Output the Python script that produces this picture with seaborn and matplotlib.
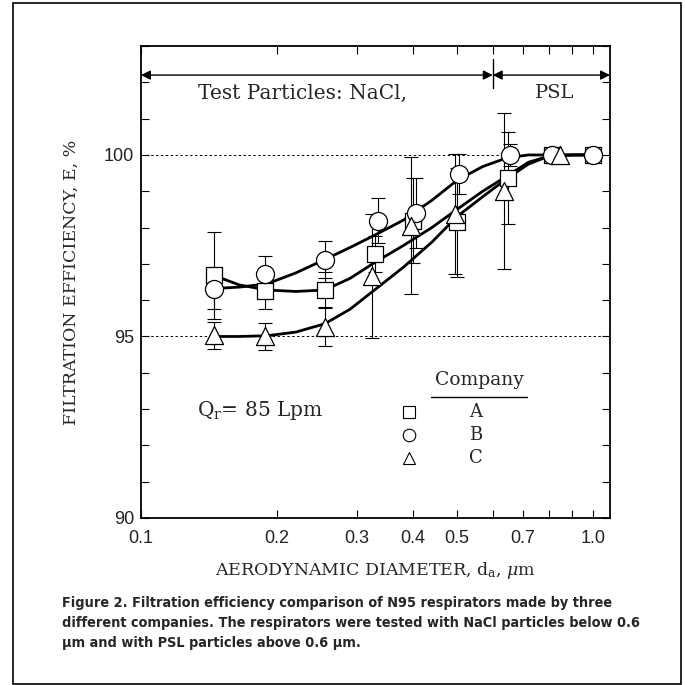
import matplotlib
matplotlib.use("Agg")
import matplotlib.pyplot as plt
import matplotlib.ticker as mticker
from matplotlib.patches import Rectangle
import numpy as np
import pandas as pd
import seaborn as sns

# ---------------------------------------------------------------------------
# Data
# ---------------------------------------------------------------------------
companies = ["A", "B", "C"]

a_diam = [0.145, 0.188, 0.255, 0.33, 0.40, 0.50, 0.648, 0.81, 1.0]
a_eff = [96.68, 96.26, 96.28, 97.28, 98.19, 98.15, 99.37, 100.0, 100.0]
a_err = [1.2, 0.5, 0.5, 0.5, 1.18, 1.5, 1.27, 0.0, 0.0]

b_diam = [0.145, 0.188, 0.255, 0.335, 0.405, 0.505, 0.655, 0.81, 1.0]
b_eff = [96.32, 96.73, 97.12, 98.19, 98.41, 99.48, 100.0, 100.0, 100.0]
b_err = [0.55, 0.5, 0.5, 0.62, 0.96, 0.55, 0.3, 0.0, 0.0]

c_diam = [0.145, 0.188, 0.255, 0.325, 0.395, 0.495, 0.635, 0.845]
c_eff = [95.03, 95.0, 95.27, 96.67, 98.05, 98.38, 99.01, 100.0]
c_err = [0.37, 0.37, 0.53, 1.7, 1.88, 1.65, 2.14, 0.0]

# fitted curves, read at fixed diameters
fit_diam = [0.145, 0.165, 0.19, 0.22, 0.255, 0.29, 0.33, 0.38, 0.44,
            0.5, 0.57, 0.645, 0.72, 0.8, 0.9, 1.0]
a_fit = [96.68, 96.42, 96.28, 96.24, 96.28, 96.6, 97.05, 97.5, 98.0,
         98.5, 99.0, 99.42, 99.8, 99.97, 100.0, 100.0]
b_fit = [96.32, 96.36, 96.45, 96.75, 97.12, 97.45, 97.8, 98.2, 98.75,
         99.3, 99.68, 99.92, 100.0, 100.0, 100.0, 100.0]
c_fit = [95.0, 95.0, 95.02, 95.12, 95.35, 95.75, 96.3, 96.9, 97.6,
         98.3, 98.85, 99.35, 99.75, 99.97, 100.0, 100.0]

x_ticks = [0.1, 0.2, 0.3, 0.4, 0.5, 0.7, 1.0]
x_ticklabels = ["0.1", "0.2", "0.3", "0.4", "0.5", "0.7", "1.0"]
y_ticks = [90, 95, 100]

caption = ("Figure 2. Filtration efficiency comparison of N95 respirators made by three\n"
           "different companies. The respirators were tested with NaCl particles below 0.6\n"
           "\u00b5m and with PSL particles above 0.6 \u00b5m.")

# ---------------------------------------------------------------------------
# Frames
# ---------------------------------------------------------------------------
points = pd.concat([
    pd.DataFrame({"diam": a_diam, "eff": a_eff, "err": a_err, "company": "A"}),
    pd.DataFrame({"diam": b_diam, "eff": b_eff, "err": b_err, "company": "B"}),
    pd.DataFrame({"diam": c_diam, "eff": c_eff, "err": c_err, "company": "C"}),
], ignore_index=True)

fits = pd.concat([
    pd.DataFrame({"diam": fit_diam, "eff": a_fit, "company": "A"}),
    pd.DataFrame({"diam": fit_diam, "eff": b_fit, "company": "B"}),
    pd.DataFrame({"diam": fit_diam, "eff": c_fit, "company": "C"}),
], ignore_index=True)

# ---------------------------------------------------------------------------
# Plot
# ---------------------------------------------------------------------------
sns.set_style("ticks")
plt.rcParams["font.family"] = ["DejaVu Serif"]
plt.rcParams["mathtext.fontset"] = "custom"
plt.rcParams["mathtext.rm"] = "DejaVu Serif"
plt.rcParams["mathtext.it"] = "DejaVu Serif:italic"

fig = plt.figure(figsize=(6.85, 6.85), dpi=100)
ax = fig.add_axes([0.2058, 0.2438, 0.6847, 0.689])

# outer frame of the figure panel
fig.patches.append(Rectangle((13 / 685, 0.002), 668 / 685, 0.994,
                             transform=fig.transFigure, fill=False,
                             edgecolor="black", lw=1.2))

for y in (95, 100):
    ax.axhline(y, color="black", lw=0.7, ls=(0, (2.5, 2.5)), zorder=1)

# error bars
for _, r in points.iterrows():
    if r["err"] > 0:
        ax.errorbar(r["diam"], r["eff"], yerr=r["err"], fmt="none",
                    ecolor="black", elinewidth=0.8, capsize=5, capthick=0.8,
                    zorder=2)

sns.lineplot(data=fits, x="diam", y="eff", units="company", estimator=None,
             color="black", lw=2.0, ax=ax, zorder=3, legend=False)

markers = {"A": "s", "B": "o", "C": "^"}
sizes = {"A": 11, "B": 13, "C": 13}
for comp in companies:
    sub = points[points["company"] == comp]
    sns.scatterplot(data=sub, x="diam", y="eff", marker=markers[comp],
                    s=sizes[comp] ** 2, facecolor="white", edgecolor="black",
                    linewidth=0.9, ax=ax, zorder=4, legend=False)

ax.set_xscale("log")
ax.set_xlim(0.1, 1.09)
ax.set_ylim(90, 103)

ax.xaxis.set_major_locator(mticker.FixedLocator(x_ticks))
ax.xaxis.set_major_formatter(mticker.FixedFormatter(x_ticklabels))
ax.xaxis.set_minor_locator(mticker.FixedLocator([0.6, 0.8, 0.9]))
ax.xaxis.set_minor_formatter(mticker.NullFormatter())
ax.yaxis.set_major_locator(mticker.FixedLocator(y_ticks))
ax.yaxis.set_minor_locator(mticker.MultipleLocator(1))

ax.tick_params(which="both", direction="in", top=True, right=True,
               width=0.8, color="black")
ax.tick_params(which="both", length=6)
ax.tick_params(axis="x", which="major", labelsize=13, pad=9)
ax.tick_params(axis="y", which="major", labelsize=13, pad=5)
for lab in ax.get_xticklabels() + ax.get_yticklabels():
    lab.set_family(["Liberation Sans", "DejaVu Sans"])
    lab.set_color("#222222")

for sp in ax.spines.values():
    sp.set_linewidth(1.3)
    sp.set_color("black")

ax.set_xlabel(r"AERODYNAMIC DIAMETER, d$_{\rm a}$, $\mu$m", fontsize=12.5,
              labelpad=9)
ax.set_ylabel("FILTRATION EFFICIENCY, E, %", fontsize=12.5, labelpad=17)

# particle-range arrows
arr = dict(arrowstyle="<|-|>", color="black", lw=1.0,
           mutation_scale=14, shrinkA=0, shrinkB=0)
ax.annotate("", xy=(0.1, 102.2), xytext=(0.6, 102.2), arrowprops=arr)
ax.annotate("", xy=(0.6, 102.2), xytext=(1.09, 102.2), arrowprops=arr)
ax.plot([0.6, 0.6], [101.85, 102.65], color="black", lw=1.0)
ax.text(0.228, 101.7, "Test Particles: NaCl,", fontsize=14.5, ha="center",
        va="center")
ax.text(0.824, 101.7, "PSL", fontsize=14, ha="center", va="center")

ax.text(0.133, 92.97, r"Q$_{\rm r}$= 85 Lpm", fontsize=14.5, ha="left",
        va="center")

# hand-drawn legend block
ax.text(0.562, 93.8, "Company", fontsize=13.5, ha="center", va="center")
ax.plot([0.438, 0.714], [93.32, 93.32], color="black", lw=1.0)
leg_y = [92.91, 92.28, 91.65]
for comp, yy in zip(companies, leg_y):
    ax.plot(0.392, yy, marker=markers[comp], ms=9, mfc="white",
            mec="black", mew=0.8, ls="none")
    ax.text(0.551, yy, comp, fontsize=13, ha="center", va="center")

fig.text(62 / 685, 1 - 596 / 685, caption, fontsize=10.4, fontweight="bold",
         fontstretch="condensed",
         family=["DejaVu Sans"],
         ha="left", va="top", linespacing=1.55)

fig.savefig("out.png", dpi=100)
plt.close(fig)
